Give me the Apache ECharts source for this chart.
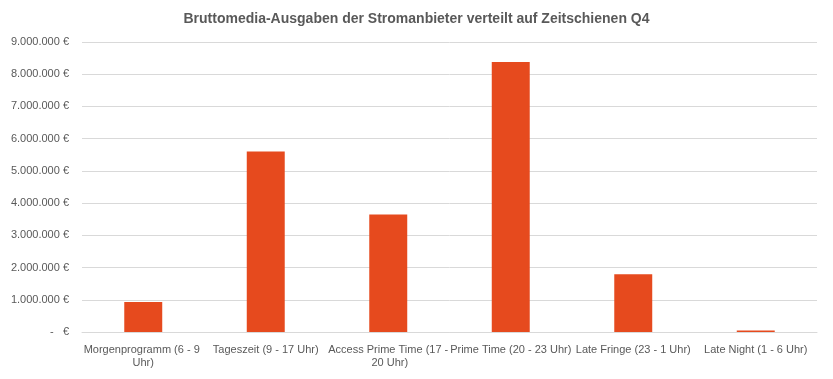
<!DOCTYPE html>
<html>
<head>
<meta charset="utf-8">
<script src="https://cdn.jsdelivr.net/npm/echarts@6/dist/echarts.min.js"></script>
<style>html,body{margin:0;padding:0;background:#fff}#c{width:833px;height:379px}</style>
</head>
<body>
<div id="c"></div>
<script>
var title = 'Bruttomedia-Ausgaben der Stromanbieter verteilt auf Zeitschienen Q4';
var categories = ['Morgenprogramm (6 - 9 Uhr)', 'Tageszeit (9 - 17 Uhr)', 'Access Prime Time (17 - 20 Uhr)', 'Prime Time (20 - 23 Uhr)', 'Late Fringe (23 - 1 Uhr)', 'Late Night (1 - 6 Uhr)'];
var values = [930000, 5600000, 3650000, 8380000, 1790000, 50000];
var yMin = 0, yMax = 9000000, yStep = 1000000;

function fmtEuro(v) {
  if (v === 0) return '-   €';
  return String(v).replace(/\B(?=(\d{3})+(?!\d))/g, '.') + ' €';
}

var chart = echarts.init(document.getElementById('c'), null, {renderer: 'canvas'});
var font = '"Liberation Sans", Arial, sans-serif';
chart.setOption({
  animation: false,
  backgroundColor: '#ffffff',
  title: {
    text: title, left: 'center', top: 7,
    textStyle: {fontFamily: font, fontSize: 14, fontWeight: 'bold', color: '#595959'}
  },
  grid: {left: 82, right: 16, top: 42, bottom: 47, containLabel: false},
  xAxis: {
    type: 'category', data: categories,
    axisLine: {show: true, lineStyle: {color: '#D9D9D9', width: 1}},
    axisTick: {show: false},
    axisLabel: {fontFamily: font, fontSize: 11, color: '#595959', interval: 0, margin: 11,
      width: 122, overflow: 'break', lineHeight: 13}
  },
  yAxis: {
    type: 'value', min: yMin, max: yMax, interval: yStep,
    axisLine: {show: false}, axisTick: {show: false},
    splitLine: {lineStyle: {color: '#D9D9D9', width: 1}},
    axisLabel: {fontFamily: font, fontSize: 11, color: '#595959', margin: 13, formatter: fmtEuro}
  },
  series: [{
    type: 'bar', data: values, barWidth: '31%',
    itemStyle: {color: '#E64A1E'}
  }]
});
</script>
</body>
</html>
